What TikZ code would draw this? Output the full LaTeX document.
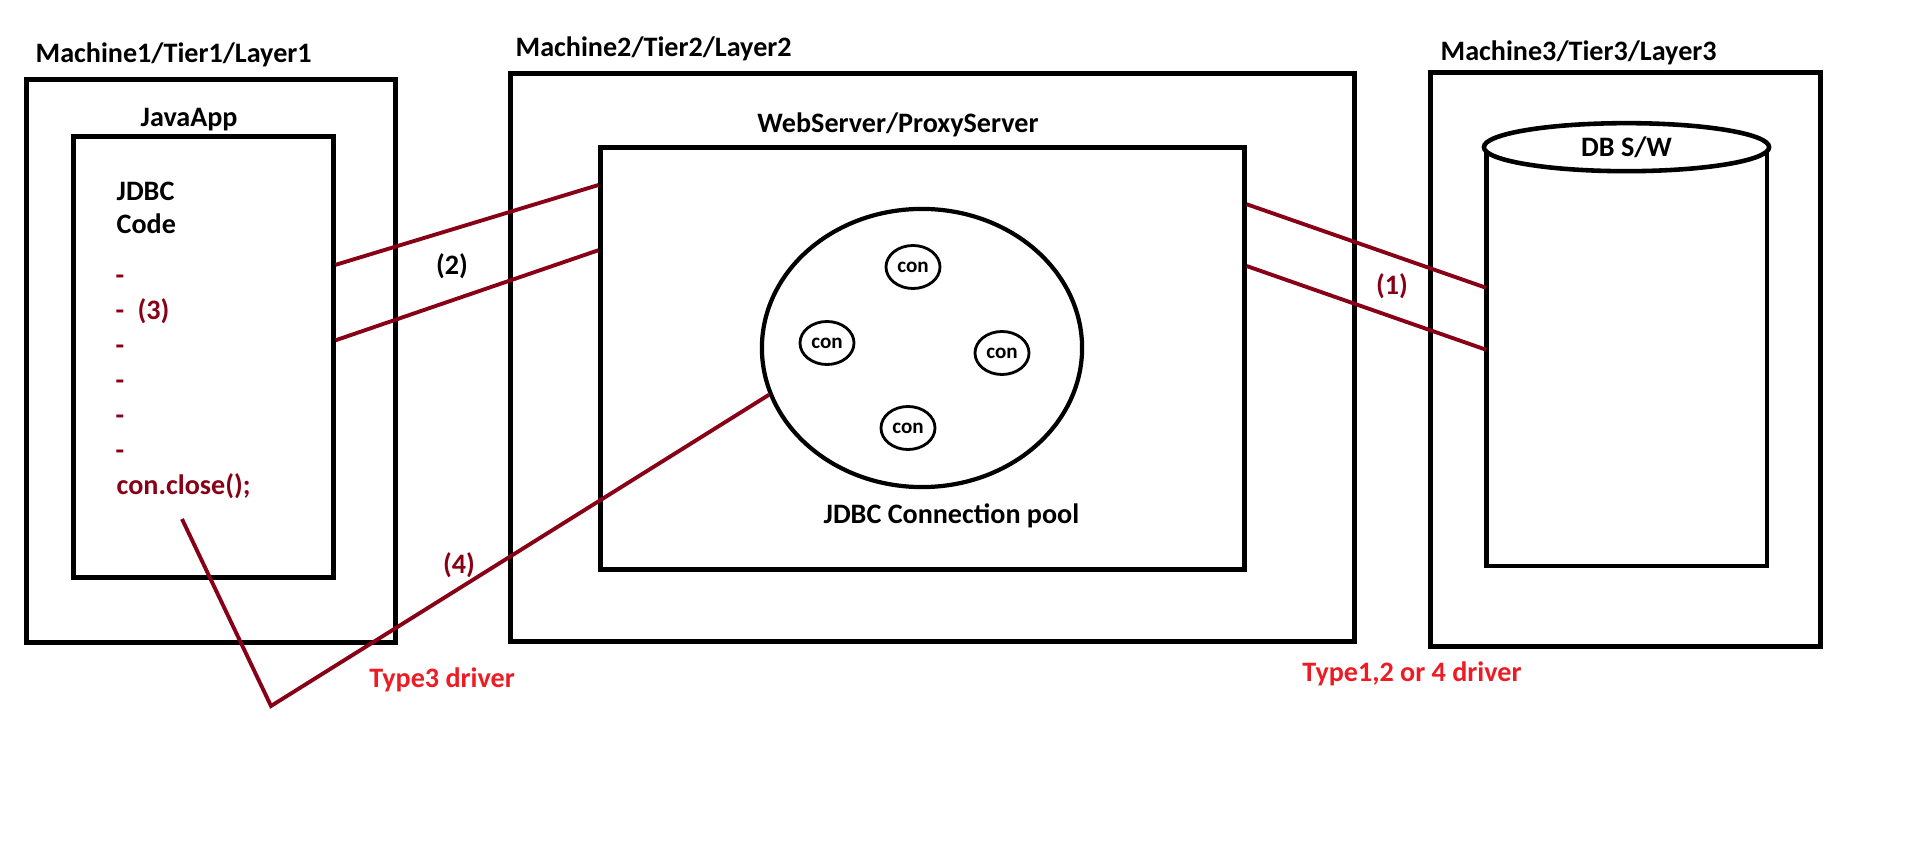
\documentclass[tikz,border=0pt]{standalone}
\usepackage{fontspec}
\setmainfont{Carlito}
\usetikzlibrary{shapes.geometric,calc}
\definecolor{paintred}{RGB}{136,0,21}
\definecolor{brightred}{RGB}{237,28,36}
\tikzset{
  box/.style={draw, line width=1.4pt, inner sep=0pt},
  wire/.style={draw=paintred, line width=1.1pt},
  lbl/.style={font=\fontsize{8}{9.6}\selectfont\bfseries, inner sep=0pt},
  codeline/.style={lbl, text=paintred, anchor=base west},
  conn/.style={draw, ellipse, line width=0.8pt, minimum width=0.54cm, minimum height=0.43cm, inner sep=0pt, font=\fontsize{6}{7}\selectfont\bfseries},
}
\begin{document}
\begin{tikzpicture}[x=0.01cm, y=-0.01cm]
            \useasboundingbox (0,0) rectangle (1914,858);
            % the three machines
            \node[box, minimum width=3.68cm, minimum height=5.62cm] (m1) at (211,361) {};
            \node[box, minimum width=8.43cm, minimum height=5.67cm] (m2) at (932.5,357.5) {};
            \node[box, minimum width=3.89cm, minimum height=5.73cm] (m3) at (1625.5,359.5) {};
            \node[lbl, anchor=base west] (m1name) at (35,63) {Machine1/Tier1/Layer1};
            \node[lbl, anchor=base west] (m2name) at (515,57) {Machine2/Tier2/Layer2};
            \node[lbl, anchor=base west] (m3name) at (1440,61) {Machine3/Tier3/Layer3};
            % java app
            \node[box, minimum width=2.59cm, minimum height=4.40cm] (java) at (203.5,357) {};
            \node[lbl, anchor=base west] (javaname) at (140,127) {JavaApp};
            \node[lbl, anchor=base west] (jdbc) at (116,201) {JDBC};
            \node[lbl, anchor=base west] (code) at (116,234) {Code};
            \foreach \y [count=\i] in {285,355,390,425,460}
                \node[codeline] (dash\i) at (115,\y) {-};
            \node[codeline] (dashthree) at (115,320) {-};
            \node[codeline] (lab3) at (137,320) {(3)};
            \node[codeline] (close) at (116,495) {con.close();};
            % web server with pool
            \node[box, minimum width=6.43cm, minimum height=4.21cm] (web) at (922.5,358.5) {};
            \node[lbl, anchor=base] (webname) at (898,133) {WebServer/ProxyServer};
            \node[draw, ellipse, line width=1.2pt, minimum width=3.2cm, minimum height=2.78cm, inner sep=0pt] (pool) at (922,348) {};
            \node[conn] (con1) at (913,267) {con};
            \node[conn] (con2) at (827,343) {con};
            \node[conn] (con3) at (1002,353) {con};
            \node[conn] (con4) at (908,428) {con};
            \node[lbl, anchor=base west] (poolname) at (823,524) {JDBC Connection pool};
            % database
            \node[minimum width=2.79cm, minimum height=4.17cm, inner sep=0pt] (db) at (1626.5,356.5) {};
            \draw[line width=1.3pt] (db.north west) -- (db.south west) -- (db.south east) -- (db.north east);
            \node[draw, ellipse, fill=white, line width=1.3pt, minimum width=2.85cm, minimum height=0.48cm, lbl] (dbtop) at (db.north) {DB S/W};
            % wires
            \draw[wire] ($(java.north east)!0.293!(java.south east)$) -- ($(web.north west)!0.093!(web.south west)$);
            \draw[wire] ($(java.north east)!0.4625!(java.south east)$) -- ($(web.north west)!0.246!(web.south west)$);
            \node[lbl] (lab2) at (452,266) {(2)};
            \draw[wire] ($(web.north east)!0.138!(web.south east)$) -- ($(db.north west)!0.336!(db.south west)$);
            \draw[wire] ($(web.north east)!0.283!(web.south east)$) -- ($(db.north west)!0.484!(db.south west)$);
            \node[lbl, text=paintred] (lab1) at (1392,286) {(1)};
            \coordinate (tail) at (182,519);
            \coordinate (bend) at (271,706);
            \draw[wire] (tail) -- (bend) -- (pool.197);
            \node[lbl, text=paintred] (lab4) at (459,565) {(4)};
            \node[lbl, text=brightred, anchor=base] (type3) at (442,688) {Type3 driver};
            \node[lbl, text=brightred, anchor=base] (type124) at (1412,682) {Type1,2 or 4 driver};
        \end{tikzpicture}
\end{document}
